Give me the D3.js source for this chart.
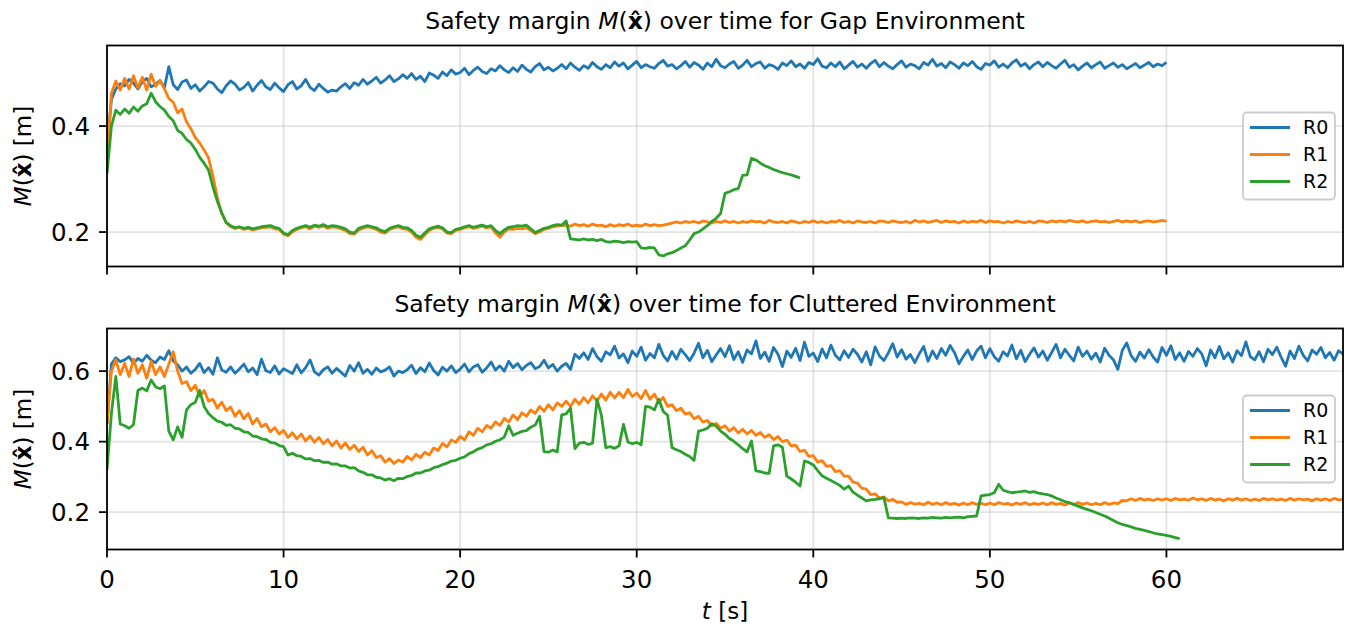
<!DOCTYPE html>
<html><head><meta charset="utf-8">
<script src="https://cdn.jsdelivr.net/npm/d3@7"></script>
<style>body{margin:0;background:#fff}svg{display:block}text{font-family:"DejaVu Sans",sans-serif;fill:#000}</style>
</head><body><svg id="c" width="1350" height="631"></svg>
<script>
// ---------------- data ----------------
const seriesNames = ["R0", "R1", "R2"];
const seriesColors = ["#1f77b4", "#ff7f0e", "#2ca02c"];
const DT = 0.25; // sampling step of the series below [s]
const xTicks = [0, 10, 20, 30, 40, 50, 60];
const xDomain = [0, 70];
const gapYTicks = [0.2, 0.4];
const gapYDomain = [0.135, 0.552];
const clutYTicks = [0.2, 0.4, 0.6];
const clutYDomain = [0.094, 0.721];

// Gap environment
const gapR0 = [
0.36,0.45,0.47,0.48, 0.476,0.488,0.481,0.47, 0.484,0.49,0.474,0.479, 0.486,0.472,0.512,0.478,
0.469,0.483,0.487,0.471, 0.478,0.466,0.474,0.484, 0.481,0.47,0.463,0.476, 0.485,0.479,0.468,0.473,
0.482,0.466,0.477,0.486, 0.474,0.469,0.481,0.472, 0.465,0.478,0.484,0.47, 0.476,0.488,0.473,0.467,
0.479,0.471,0.464,0.468, 0.466,0.474,0.48,0.471, 0.482,0.477,0.488,0.479, 0.485,0.492,0.481,0.487,
0.495,0.484,0.489,0.497, 0.49,0.499,0.488,0.494, 0.484,0.5,0.496,0.49, 0.502,0.495,0.506,0.498,
0.501,0.509,0.497,0.505, 0.511,0.503,0.499,0.508, 0.504,0.514,0.506,0.501, 0.51,0.503,0.515,0.507,
0.502,0.512,0.518,0.506, 0.511,0.504,0.509,0.516, 0.508,0.519,0.511,0.505, 0.514,0.509,0.52,0.512,
0.507,0.516,0.51,0.521, 0.513,0.519,0.508,0.515, 0.522,0.51,0.516,0.512, 0.509,0.518,0.524,0.513,
0.516,0.508,0.514,0.522, 0.511,0.52,0.515,0.507, 0.519,0.512,0.526,0.514, 0.51,0.517,0.522,0.509,
0.515,0.524,0.512,0.518, 0.521,0.509,0.516,0.513, 0.507,0.519,0.514,0.523, 0.512,0.517,0.509,0.52,
0.516,0.527,0.513,0.51, 0.519,0.512,0.521,0.508, 0.515,0.522,0.511,0.517, 0.509,0.518,0.524,0.512,
0.52,0.513,0.508,0.516, 0.523,0.511,0.517,0.514, 0.508,0.52,0.515,0.526, 0.513,0.518,0.51,0.521,
0.516,0.509,0.519,0.514, 0.522,0.512,0.507,0.518, 0.515,0.523,0.511,0.517, 0.51,0.519,0.525,0.513,
0.518,0.508,0.516,0.521, 0.512,0.52,0.514,0.509, 0.517,0.524,0.511,0.516, 0.506,0.513,0.519,0.51,
0.516,0.521,0.509,0.514, 0.519,0.511,0.516,0.508, 0.513,0.518,0.51,0.515, 0.52,0.512,0.517,0.514,
0.52];
const gapR1 = [
0.33,0.462,0.485,0.468, 0.49,0.47,0.495,0.472, 0.492,0.468,0.498,0.475, 0.486,0.47,0.452,0.445,
0.425,0.432,0.408,0.395, 0.378,0.368,0.355,0.34, 0.305,0.265,0.235,0.218, 0.21,0.207,0.209,0.205,
0.207,0.204,0.206,0.208, 0.209,0.21,0.206,0.205, 0.196,0.193,0.2,0.205, 0.208,0.21,0.206,0.211,
0.209,0.211,0.207,0.21, 0.209,0.206,0.203,0.197, 0.196,0.204,0.207,0.21, 0.208,0.205,0.2,0.198,
0.205,0.208,0.21,0.206, 0.205,0.2,0.19,0.186, 0.195,0.203,0.207,0.209, 0.206,0.198,0.197,0.203,
0.205,0.208,0.21,0.207, 0.209,0.211,0.208,0.21, 0.198,0.19,0.2,0.206, 0.205,0.207,0.206,0.208,
0.203,0.197,0.2,0.205, 0.207,0.21,0.211,0.212, 0.213,0.211,0.215,0.212, 0.214,0.211,0.215,0.212,
0.213,0.21,0.214,0.211, 0.214,0.212,0.215,0.211, 0.213,0.211,0.215,0.212, 0.214,0.212,0.213,0.215,
0.217,0.219,0.217,0.22, 0.218,0.22,0.217,0.221, 0.219,0.217,0.22,0.218, 0.221,0.218,0.22,0.217,
0.22,0.218,0.221,0.219, 0.22,0.217,0.222,0.219, 0.218,0.22,0.217,0.221, 0.219,0.217,0.22,0.218,
0.221,0.218,0.22,0.217, 0.22,0.219,0.222,0.218, 0.22,0.217,0.221,0.219, 0.218,0.22,0.217,0.221,
0.22,0.218,0.221,0.219, 0.218,0.22,0.217,0.222, 0.219,0.221,0.218,0.22, 0.222,0.218,0.221,0.219,
0.22,0.217,0.221,0.218, 0.22,0.219,0.222,0.218, 0.221,0.219,0.22,0.217, 0.22,0.218,0.221,0.219,
0.218,0.22,0.217,0.221, 0.22,0.218,0.221,0.219, 0.221,0.219,0.222,0.22, 0.219,0.221,0.218,0.22,
0.221,0.219,0.22,0.218, 0.22,0.222,0.219,0.221, 0.219,0.221,0.218,0.22, 0.221,0.219,0.22,0.222,
0.22];
const gapR2 = [
0.31,0.4,0.43,0.422, 0.432,0.424,0.436,0.428, 0.438,0.442,0.462,0.446, 0.437,0.43,0.418,0.41,
0.392,0.386,0.375,0.368, 0.356,0.341,0.33,0.317, 0.285,0.258,0.236,0.218, 0.212,0.208,0.21,0.207,
0.209,0.206,0.208,0.21, 0.211,0.212,0.209,0.207, 0.198,0.195,0.203,0.207, 0.21,0.212,0.209,0.213,
0.211,0.214,0.21,0.212, 0.211,0.209,0.206,0.2, 0.198,0.207,0.21,0.212, 0.21,0.208,0.203,0.201,
0.207,0.21,0.212,0.209, 0.208,0.203,0.194,0.19, 0.198,0.206,0.209,0.211, 0.208,0.2,0.199,0.205,
0.207,0.21,0.212,0.209, 0.211,0.213,0.21,0.212, 0.203,0.197,0.204,0.209, 0.21,0.212,0.211,0.213,
0.206,0.199,0.203,0.207, 0.209,0.212,0.214,0.213, 0.221,0.187,0.186,0.185, 0.187,0.185,0.186,0.184,
0.186,0.182,0.181,0.183, 0.182,0.18,0.182,0.181, 0.182,0.17,0.169,0.171, 0.17,0.157,0.155,0.159,
0.161,0.165,0.17,0.174, 0.185,0.197,0.2,0.206, 0.212,0.22,0.226,0.235, 0.273,0.276,0.28,0.282,
0.307,0.308,0.339,0.336, 0.33,0.325,0.322,0.318, 0.315,0.312,0.31,0.308, 0.305,0.302];

// Cluttered environment
const clutR0 = [
0.45,0.62,0.638,0.627, 0.632,0.641,0.622,0.636, 0.628,0.645,0.631,0.624, 0.64,0.633,0.658,0.629,
0.618,0.6,0.612,0.594, 0.605,0.622,0.596,0.61, 0.591,0.638,0.603,0.597, 0.612,0.594,0.606,0.62,
0.598,0.609,0.59,0.634, 0.601,0.596,0.615,0.592, 0.607,0.6,0.593,0.618, 0.595,0.61,0.632,0.598,
0.589,0.604,0.612,0.594, 0.608,0.597,0.586,0.616, 0.6,0.624,0.594,0.605, 0.591,0.609,0.598,0.603,
0.612,0.586,0.6,0.596, 0.604,0.617,0.593,0.61, 0.598,0.623,0.602,0.589, 0.611,0.6,0.615,0.596,
0.606,0.62,0.598,0.612, 0.618,0.597,0.609,0.626, 0.603,0.615,0.6,0.628, 0.61,0.622,0.604,0.616,
0.624,0.607,0.613,0.631, 0.609,0.619,0.6,0.614, 0.622,0.605,0.648,0.636, 0.652,0.633,0.664,0.641,
0.628,0.655,0.646,0.671, 0.637,0.649,0.624,0.657, 0.642,0.668,0.631,0.65, 0.638,0.676,0.645,0.629,
0.656,0.634,0.662,0.647, 0.63,0.651,0.679,0.638, 0.659,0.627,0.646,0.664, 0.641,0.672,0.633,0.655,
0.625,0.66,0.649,0.686, 0.636,0.654,0.628,0.667, 0.648,0.613,0.657,0.639, 0.665,0.63,0.682,0.642,
0.651,0.627,0.663,0.638, 0.674,0.645,0.632,0.658, 0.639,0.662,0.648,0.626, 0.655,0.618,0.669,0.643,
0.63,0.652,0.678,0.64, 0.661,0.634,0.647,0.624, 0.649,0.67,0.628,0.657, 0.636,0.664,0.645,0.673,
0.652,0.621,0.642,0.66, 0.633,0.657,0.671,0.638, 0.664,0.641,0.628,0.655, 0.643,0.674,0.635,0.659,
0.627,0.648,0.666,0.64, 0.657,0.631,0.653,0.676, 0.638,0.662,0.645,0.629, 0.668,0.642,0.657,0.634,
0.651,0.626,0.665,0.645, 0.632,0.605,0.659,0.68, 0.644,0.628,0.654,0.637, 0.661,0.64,0.626,0.667,
0.645,0.672,0.633,0.652, 0.628,0.656,0.642,0.664, 0.649,0.615,0.66,0.638, 0.67,0.635,0.652,0.626,
0.658,0.644,0.683,0.641, 0.632,0.655,0.627,0.662, 0.647,0.668,0.639,0.614, 0.657,0.636,0.671,0.645,
0.629,0.66,0.648,0.667, 0.638,0.653,0.631,0.658,
0.648];
const clutR1 = [
0.45,0.6,0.632,0.59, 0.622,0.585,0.635,0.594, 0.618,0.58,0.628,0.59, 0.612,0.585,0.62,0.655,
0.6,0.565,0.57,0.545, 0.56,0.528,0.545,0.515, 0.52,0.495,0.512,0.488, 0.498,0.472,0.488,0.465,
0.48,0.45,0.466,0.442, 0.45,0.428,0.44,0.422, 0.432,0.412,0.425,0.408, 0.422,0.402,0.416,0.398,
0.412,0.394,0.406,0.388, 0.402,0.382,0.396,0.378, 0.39,0.372,0.384,0.362, 0.374,0.355,0.36,0.342,
0.352,0.338,0.348,0.342, 0.358,0.348,0.364,0.355, 0.37,0.362,0.382,0.375, 0.395,0.385,0.405,0.398,
0.415,0.405,0.428,0.418, 0.438,0.428,0.446,0.438, 0.456,0.446,0.466,0.456, 0.476,0.462,0.482,0.472,
0.49,0.48,0.5,0.486, 0.505,0.49,0.51,0.5, 0.515,0.5,0.52,0.506, 0.525,0.51,0.53,0.515,
0.535,0.518,0.54,0.524, 0.54,0.525,0.548,0.528, 0.538,0.522,0.545,0.52, 0.535,0.512,0.525,0.5,
0.505,0.488,0.495,0.478, 0.482,0.465,0.472,0.456, 0.46,0.445,0.452,0.438, 0.445,0.43,0.44,0.425,
0.435,0.422,0.432,0.418, 0.426,0.412,0.42,0.406, 0.415,0.4,0.404,0.388, 0.39,0.372,0.376,0.358,
0.36,0.342,0.346,0.33, 0.332,0.315,0.318,0.302, 0.302,0.285,0.282,0.268, 0.265,0.25,0.252,0.24,
0.243,0.232,0.236,0.228, 0.229,0.222,0.227,0.223, 0.225,0.221,0.228,0.222, 0.226,0.221,0.227,0.222,
0.225,0.22,0.226,0.221, 0.227,0.222,0.225,0.221, 0.226,0.221,0.227,0.223, 0.225,0.22,0.226,0.222,
0.227,0.221,0.225,0.222, 0.226,0.221,0.227,0.222, 0.225,0.22,0.226,0.221, 0.227,0.222,0.226,0.221,
0.225,0.221,0.227,0.222, 0.226,0.224,0.233,0.232, 0.238,0.233,0.239,0.234, 0.237,0.233,0.238,0.234,
0.238,0.233,0.239,0.235, 0.237,0.234,0.24,0.235, 0.238,0.233,0.239,0.234, 0.237,0.232,0.238,0.234,
0.239,0.234,0.238,0.233, 0.237,0.233,0.239,0.235, 0.238,0.234,0.237,0.233, 0.239,0.234,0.238,0.235,
0.237,0.232,0.238,0.234, 0.238,0.233,0.239,0.235,
0.236];
const clutR2 = [
0.32,0.48,0.585,0.45, 0.445,0.438,0.448,0.545, 0.552,0.544,0.575,0.556, 0.55,0.558,0.43,0.405,
0.442,0.412,0.49,0.505, 0.512,0.545,0.5,0.48, 0.468,0.458,0.455,0.446, 0.448,0.438,0.436,0.428,
0.426,0.416,0.414,0.408, 0.406,0.398,0.396,0.389, 0.386,0.362,0.367,0.36, 0.358,0.351,0.352,0.346,
0.347,0.341,0.342,0.336, 0.337,0.331,0.331,0.325, 0.326,0.317,0.313,0.306, 0.306,0.299,0.297,0.291,
0.295,0.289,0.296,0.295, 0.301,0.304,0.311,0.311, 0.317,0.319,0.326,0.329, 0.335,0.339,0.345,0.347,
0.353,0.357,0.366,0.371, 0.379,0.383,0.391,0.394, 0.401,0.405,0.413,0.445, 0.418,0.424,0.429,0.431,
0.441,0.447,0.472,0.372, 0.37,0.376,0.371,0.476, 0.479,0.495,0.38,0.396, 0.398,0.392,0.396,0.52,
0.475,0.383,0.386,0.381, 0.388,0.449,0.399,0.394, 0.398,0.391,0.5,0.498, 0.49,0.52,0.486,0.475,
0.383,0.377,0.372,0.364, 0.358,0.347,0.43,0.433, 0.438,0.451,0.444,0.43, 0.421,0.409,0.401,0.391,
0.38,0.371,0.402,0.317, 0.315,0.311,0.31,0.388, 0.391,0.384,0.302,0.294, 0.285,0.274,0.345,0.341,
0.334,0.318,0.303,0.296, 0.29,0.283,0.276,0.265, 0.274,0.257,0.248,0.24, 0.232,0.235,0.236,0.238,
0.241,0.184,0.183,0.182, 0.183,0.182,0.184,0.183, 0.182,0.184,0.183,0.185, 0.184,0.183,0.185,0.184,
0.185,0.186,0.184,0.187, 0.188,0.189,0.246,0.248, 0.25,0.255,0.279,0.262, 0.258,0.255,0.257,0.258,
0.26,0.256,0.258,0.254, 0.252,0.25,0.246,0.24, 0.235,0.23,0.227,0.222, 0.217,0.212,0.208,0.204,
0.199,0.194,0.189,0.183, 0.176,0.17,0.165,0.162, 0.158,0.154,0.151,0.148, 0.145,0.141,0.138,0.136,
0.134,0.131,0.128,0.125];

// ---------------- layout ----------------
const W = 1350, H = 631;
const axLeft = 107, axRight = 1343;
const panels = [
  {title: "Gap", top: 45.5, bottom: 266.5, series: [gapR0, gapR1, gapR2], yDomain: gapYDomain, yTicks: gapYTicks, xLabels: false, titleY: 29},
  {title: "Cluttered", top: 328.5, bottom: 549.5, series: [clutR0, clutR1, clutR2], yDomain: clutYDomain, yTicks: clutYTicks, xLabels: true, titleY: 311.5}
];
const svg = d3.select("#c");
svg.append("rect").attr("width", W).attr("height", H).attr("fill", "#fff");
const x = d3.scaleLinear().domain(xDomain).range([axLeft, axRight]);
const fmt = d3.format(".1f");

function mathM(sel) {
  sel.append("tspan").attr("font-style", "italic").text("M");
  sel.append("tspan").text("(");
  sel.append("tspan").attr("font-weight", "bold").text("x\u0302");
  sel.append("tspan").text(")");
}

panels.forEach((p, pi) => {
  const y = d3.scaleLinear().domain(p.yDomain).range([p.bottom, p.top]);
  const g = svg.append("g");
  const clipId = "clip" + pi;
  svg.append("clipPath").attr("id", clipId).append("rect")
    .attr("x", axLeft).attr("y", p.top).attr("width", axRight - axLeft).attr("height", p.bottom - p.top);

  // grid
  const grid = g.append("g").attr("stroke", "#b0b0b0").attr("stroke-opacity", 0.35).attr("stroke-width", 1.8);
  grid.selectAll("line.gx").data(xTicks).join("line").attr("class", "gx")
    .attr("x1", d => x(d)).attr("x2", d => x(d)).attr("y1", p.top).attr("y2", p.bottom);
  grid.selectAll("line.gy").data(p.yTicks).join("line").attr("class", "gy")
    .attr("x1", axLeft).attr("x2", axRight).attr("y1", d => y(d)).attr("y2", d => y(d));

  // lines
  const line = d3.line().x((d, i) => x(i * DT)).y(d => y(d)).curve(d3.curveLinear);
  const lg = g.append("g").attr("clip-path", `url(#${clipId})`);
  p.series.forEach((s, si) => {
    lg.append("path").datum(s).attr("d", line).attr("fill", "none")
      .attr("stroke", seriesColors[si]).attr("stroke-width", 2.8)
      .attr("stroke-linejoin", "round").attr("stroke-linecap", "butt");
  });

  // spines
  g.append("rect").attr("x", axLeft).attr("y", p.top).attr("width", axRight - axLeft).attr("height", p.bottom - p.top)
    .attr("fill", "none").attr("stroke", "#000").attr("stroke-width", 1.8);

  // x ticks
  const xt = g.append("g");
  xt.selectAll("line").data(xTicks).join("line")
    .attr("x1", d => x(d)).attr("x2", d => x(d)).attr("y1", p.bottom).attr("y2", p.bottom + 8)
    .attr("stroke", "#000").attr("stroke-width", 1.8);
  if (p.xLabels) {
    xt.selectAll("text").data(xTicks).join("text")
      .attr("x", d => x(d)).attr("y", p.bottom + 38).attr("text-anchor", "middle")
      .attr("font-size", 24.5).text(d => d);
  }
  // y ticks
  const yt = g.append("g");
  yt.selectAll("line").data(p.yTicks).join("line")
    .attr("x1", axLeft - 8).attr("x2", axLeft).attr("y1", d => y(d)).attr("y2", d => y(d))
    .attr("stroke", "#000").attr("stroke-width", 1.8);
  yt.selectAll("text").data(p.yTicks).join("text")
    .attr("x", axLeft - 17).attr("y", d => y(d)).attr("dy", "0.36em").attr("text-anchor", "end")
    .attr("font-size", 24.5).text(d => fmt(d));

  // y label
  const cy = (p.top + p.bottom) / 2;
  const yl = g.append("text").attr("transform", `translate(31,${cy}) rotate(-90)`)
    .attr("text-anchor", "middle").attr("font-size", 23);
  mathM(yl);
  yl.append("tspan").text(" [m]");

  // title
  const tt = g.append("text").attr("x", (axLeft + axRight) / 2).attr("y", p.titleY)
    .attr("text-anchor", "middle").attr("font-size", 23.5);
  tt.append("tspan").text("Safety margin ");
  mathM(tt);
  tt.append("tspan").text(` over time for ${p.title} Environment`);

  // legend
  const lw = 92, lh = 87;
  const lx = axRight - 8 - lw, ly = cy - lh / 2;
  const leg = g.append("g").attr("transform", `translate(${lx},${ly})`);
  leg.append("rect").attr("width", lw).attr("height", lh).attr("rx", 4)
    .attr("fill", "#fff").attr("fill-opacity", 0.8).attr("stroke", "#cccccc").attr("stroke-width", 1.8);
  seriesNames.forEach((n, i) => {
    const ry = 15 + i * 27;
    leg.append("line").attr("x1", 7).attr("x2", 47).attr("y1", ry).attr("y2", ry)
      .attr("stroke", seriesColors[i]).attr("stroke-width", 2.8);
    leg.append("text").attr("x", 60).attr("y", ry).attr("dy", "0.36em").attr("font-size", 19).text(n);
  });
});

// x label
const xl = svg.append("text").attr("x", (axLeft + axRight) / 2).attr("y", 619)
  .attr("text-anchor", "middle").attr("font-size", 23);
xl.append("tspan").attr("font-style", "italic").text("t");
xl.append("tspan").text(" [s]");
</script></body></html>
